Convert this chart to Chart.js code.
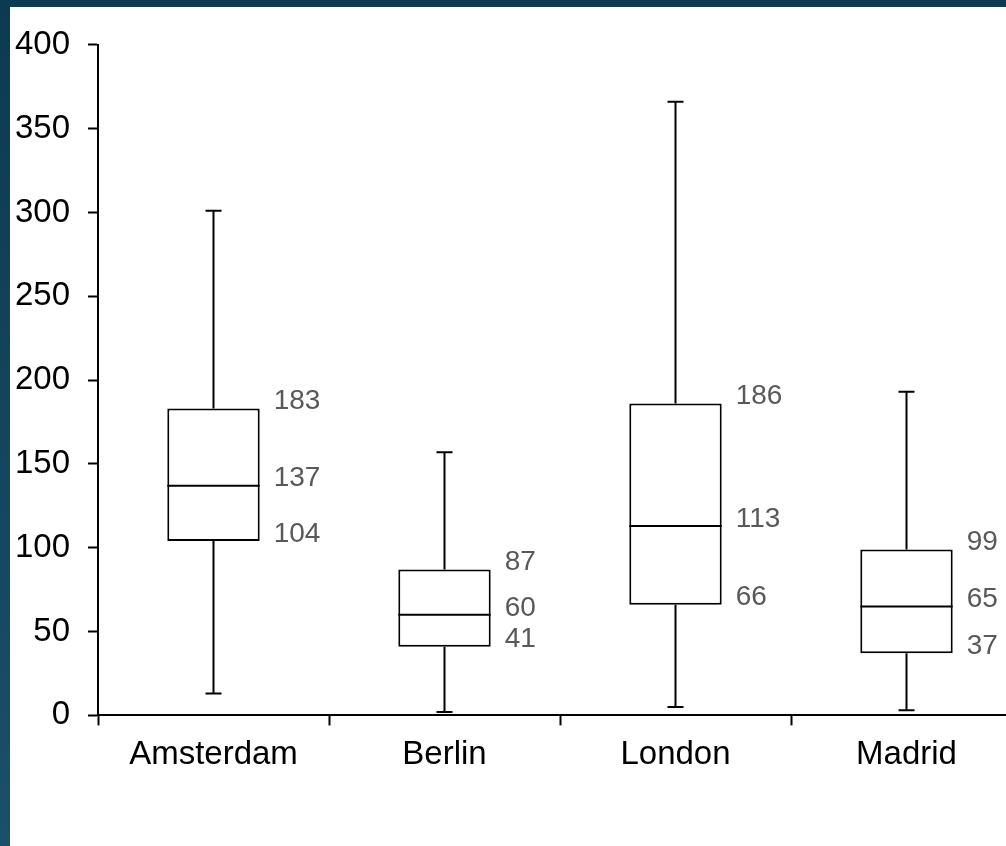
<!doctype html>
<html lang="en">

<head>
    <meta charset="utf-8">
    <title>Box plot</title>
    <script src="https://cdn.jsdelivr.net/npm/chart.js"></script>
    <style>
        html, body {
            margin: 0;
            width: 1006px;
            height: 846px;
            overflow: hidden;
            background: linear-gradient(180deg, #0c3a52 0%, #1a5068 100%);
        }

        #wrap {
            position: absolute;
            left: 10px;
            top: 7px;
            width: 1020px;
            height: 839px;
            background: #fff;
        }
    </style>
</head>

<body>
    <div id="wrap">
        <canvas id="boxchart" width="1020" height="839"></canvas>
    </div>
</body>
<script>
    const cities = ['Amsterdam', 'Berlin', 'London', 'Madrid'];
    const minValues = [13, 2, 5, 3];
    const q1Values = [104, 41, 66, 37];
    const medianValues = [137, 60, 113, 65];
    const q3Values = [183, 87, 186, 99];
    const maxValues = [301, 157, 366, 193];
    const yTicks = [0, 50, 100, 150, 200, 250, 300, 350, 400];

    const axisFont = { family: 'Arial, "Liberation Sans", sans-serif', size: 33 };

    // whiskers, median line and value labels on top of the floating bars
    const boxExtras = {
        id: 'boxExtras',
        afterDatasetsDraw(chart) {
            const ctx = chart.ctx;
            const y = chart.scales.y;
            const meta = chart.getDatasetMeta(0);
            ctx.save();
            ctx.strokeStyle = '#000';
            ctx.lineWidth = 2;
            meta.data.forEach((bar, i) => {
                const cx = bar.x;
                const half = bar.width / 2;
                const yMax = y.getPixelForValue(maxValues[i]);
                const yMin = y.getPixelForValue(minValues[i]);
                const yQ3 = y.getPixelForValue(q3Values[i]);
                const yQ1 = y.getPixelForValue(q1Values[i]);
                const yMed = y.getPixelForValue(medianValues[i]);
                ctx.beginPath();
                ctx.moveTo(cx, yQ3); ctx.lineTo(cx, yMax);
                ctx.moveTo(cx - 8, yMax); ctx.lineTo(cx + 8, yMax);
                ctx.moveTo(cx, yQ1); ctx.lineTo(cx, yMin);
                ctx.moveTo(cx - 8, yMin); ctx.lineTo(cx + 8, yMin);
                ctx.moveTo(cx - half, yMed); ctx.lineTo(cx + half, yMed);
                ctx.stroke();

                ctx.fillStyle = '#595959';
                ctx.font = '28px Arial, "Liberation Sans", sans-serif';
                ctx.textAlign = 'left';
                ctx.textBaseline = 'middle';
                const lx = cx + half + 14;
                ctx.fillText(String(q3Values[i]), lx, yQ3 - 7);
                ctx.fillText(String(medianValues[i]), lx, yMed - 7);
                ctx.fillText(String(q1Values[i]), lx, yQ1 - 7);
            });
            ctx.restore();
        }
    };

    new Chart(document.getElementById('boxchart'), {
        type: 'bar',
        data: {
            labels: cities,
            datasets: [{
                data: cities.map((c, i) => [q1Values[i], q3Values[i]]),
                backgroundColor: '#fff',
                borderColor: '#000',
                borderWidth: 2,
                borderSkipped: false,
                categoryPercentage: 1,
                barPercentage: 0.4
            }]
        },
        options: {
            responsive: false,
            animation: false,
            layout: { padding: { left: 5, top: 18, right: 8, bottom: 61 } },
            plugins: { legend: { display: false }, tooltip: { enabled: false } },
            scales: {
                x: {
                    offset: true,
                    grid: { offset: true, drawOnChartArea: false, tickLength: 10, tickColor: '#000', tickWidth: 2 },
                    border: { display: true, color: '#000', width: 2 },
                    ticks: { color: '#000', font: axisFont, padding: 10 }
                },
                y: {
                    min: 0,
                    max: 400,
                    afterBuildTicks: scale => { scale.ticks = yTicks.map(v => ({ value: v })); },
                    afterFit: scale => { scale.width = 83; },
                    grid: { drawOnChartArea: false, tickLength: 10, tickColor: '#000', tickWidth: 2 },
                    border: { display: true, color: '#000', width: 2 },
                    ticks: { color: '#000', font: axisFont, padding: 18 }
                }
            }
        },
        plugins: [boxExtras]
    });
</script>

</html>
